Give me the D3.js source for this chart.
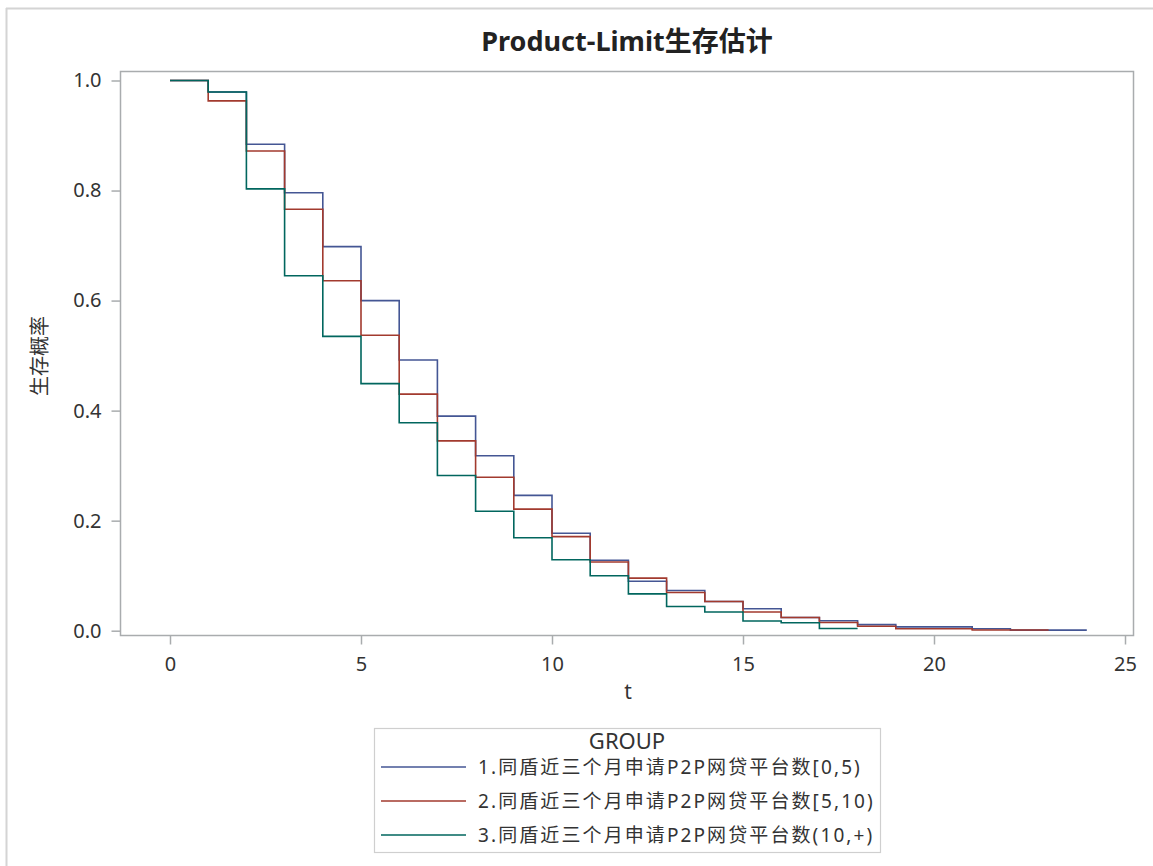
<!DOCTYPE html>
<html>
<head>
<meta charset="utf-8">
<script src="https://cdn.jsdelivr.net/npm/d3@7"></script>
<style>
  html, body { margin: 0; padding: 0; background: #fff; }
  svg { display: block; }
  text { font-family: "Noto Sans", "Noto Sans CJK SC", sans-serif; fill: #333; }
</style>
</head>
<body>
<svg id="chart" width="1153" height="866"></svg>
<script>
// Kaplan-Meier (Product-Limit) survival estimates by group.
// Each value holds from its time until the next time; the last value marks where the curve ends.
const stepTimes = [0, 1, 2, 3, 4, 5, 6, 7, 8, 9, 10, 11, 12, 13, 14, 15, 16, 17, 18, 19, 20, 21, 22, 23, 24];

const survGroup1 = [1.000, 0.979, 0.884, 0.796, 0.698, 0.600, 0.492, 0.390, 0.318, 0.246, 0.177, 0.128,
                    0.090, 0.073, 0.053, 0.040, 0.024, 0.018, 0.011, 0.007, 0.007, 0.0036, 0.001, 0.001, 0.001];
const survGroup2 = [1.000, 0.963, 0.872, 0.766, 0.636, 0.537, 0.430, 0.345, 0.279, 0.221, 0.171, 0.125,
                    0.0955, 0.0695, 0.053, 0.034, 0.024, 0.015, 0.008, 0.0036, 0.0036, 0.0012, 0.0012, 0.0012];
const survGroup3 = [1.000, 0.979, 0.803, 0.645, 0.535, 0.449, 0.378, 0.282, 0.217, 0.169, 0.129, 0.0998,
                    0.067, 0.044, 0.034, 0.0176, 0.0145, 0.004, 0.004];

const groupLabels = [
  "1.同盾近三个月申请P2P网贷平台数[0,5)",
  "2.同盾近三个月申请P2P网贷平台数[5,10)",
  "3.同盾近三个月申请P2P网贷平台数(10,+)"
];
const groupColors = ["#445694", "#A23A2E", "#01665E"];

const xTicks = [0, 5, 10, 15, 20, 25];
const yTicks = [0.0, 0.2, 0.4, 0.6, 0.8, 1.0];

const titleText = "Product-Limit生存估计";
const xTitle = "t";
const yTitle = "生存概率";
const legendTitle = "GROUP";

const series = [survGroup1, survGroup2, survGroup3].map((vals, i) => ({
  label: groupLabels[i],
  color: groupColors[i],
  points: vals.map((v, j) => ({ t: stepTimes[j], s: v }))
}));

const svg = d3.select("#chart");

// outer page border (top and left)
svg.append("line").attr("x1", 6).attr("x2", 1153).attr("y1", 8.5).attr("y2", 8.5)
  .attr("stroke", "#d4d4d4").attr("stroke-width", 2);
svg.append("line").attr("x1", 6.5).attr("x2", 6.5).attr("y1", 8).attr("y2", 866)
  .attr("stroke", "#d4d4d4").attr("stroke-width", 2);

const frame = { left: 120.5, right: 1133.5, top: 71.5, bottom: 635.5 };

const x = d3.scaleLinear().domain([0, 25]).range([170, 1125]);
const y = d3.scaleLinear().domain([0, 1]).range([630.7, 80.5]);

// title
svg.append("text")
  .attr("x", 627).attr("y", 51)
  .attr("text-anchor", "middle")
  .style("font-size", "27px").style("font-weight", "bold")
  .style("fill", "#222")
  .text(titleText);

// plot frame
svg.append("rect")
  .attr("x", frame.left).attr("y", frame.top)
  .attr("width", frame.right - frame.left).attr("height", frame.bottom - frame.top)
  .attr("fill", "none").attr("stroke", "#a9acae").attr("stroke-width", 1.5);

// x axis
const xAxis = svg.append("g")
  .attr("transform", `translate(0,${frame.bottom})`)
  .call(d3.axisBottom(x).tickValues(xTicks).tickSize(9).tickPadding(12).tickFormat(d3.format("d")));
xAxis.attr("font-family", null);
xAxis.select(".domain").remove();
xAxis.selectAll(".tick line").attr("stroke", "#a9acae").attr("stroke-width", 1.5);
xAxis.selectAll(".tick text").style("font-size", "20px").style("fill", "#333");

// y axis
const yAxis = svg.append("g")
  .attr("transform", `translate(${frame.left},0)`)
  .call(d3.axisLeft(y).tickValues(yTicks).tickSize(9).tickPadding(10).tickFormat(d3.format(".1f")));
yAxis.attr("font-family", null);
yAxis.select(".domain").remove();
yAxis.selectAll(".tick line").attr("stroke", "#a9acae").attr("stroke-width", 1.5);
yAxis.selectAll(".tick text").style("font-size", "20px").style("fill", "#333");

// axis titles
svg.append("text")
  .attr("x", 628).attr("y", 699)
  .attr("text-anchor", "middle")
  .style("font-size", "21px")
  .text(xTitle);

svg.append("text")
  .attr("transform", "translate(47,356) rotate(-90)")
  .attr("text-anchor", "middle")
  .style("font-size", "20px")
  .text(yTitle);

// survival step curves
const line = d3.line()
  .x(d => x(d.t))
  .y(d => y(d.s))
  .curve(d3.curveStepAfter);

svg.append("g").selectAll("path")
  .data(series)
  .join("path")
  .attr("d", d => line(d.points))
  .attr("fill", "none")
  .attr("stroke", d => d.color)
  .attr("stroke-width", 1.6);

// legend
const legend = svg.append("g");
legend.append("rect")
  .attr("x", 374.5).attr("y", 728.5).attr("width", 506).attr("height", 124)
  .attr("fill", "none").attr("stroke", "#cfcfcf").attr("stroke-width", 1.2);
legend.append("text")
  .attr("x", 627).attr("y", 749)
  .attr("text-anchor", "middle")
  .style("font-size", "22px")
  .text(legendTitle);

const legendRows = legend.selectAll("g.row")
  .data(series)
  .join("g")
  .attr("class", "row")
  .attr("transform", (d, i) => `translate(0,${767 + i * 34})`);
legendRows.append("line")
  .attr("x1", 381).attr("x2", 466).attr("y1", 0).attr("y2", 0)
  .attr("stroke", d => d.color).attr("stroke-width", 1.6);
legendRows.append("text")
  .attr("x", 478).attr("y", 7)
  .style("font-size", "19px")
  .style("letter-spacing", "2.1px")
  .text(d => d.label);
</script>
</body>
</html>
